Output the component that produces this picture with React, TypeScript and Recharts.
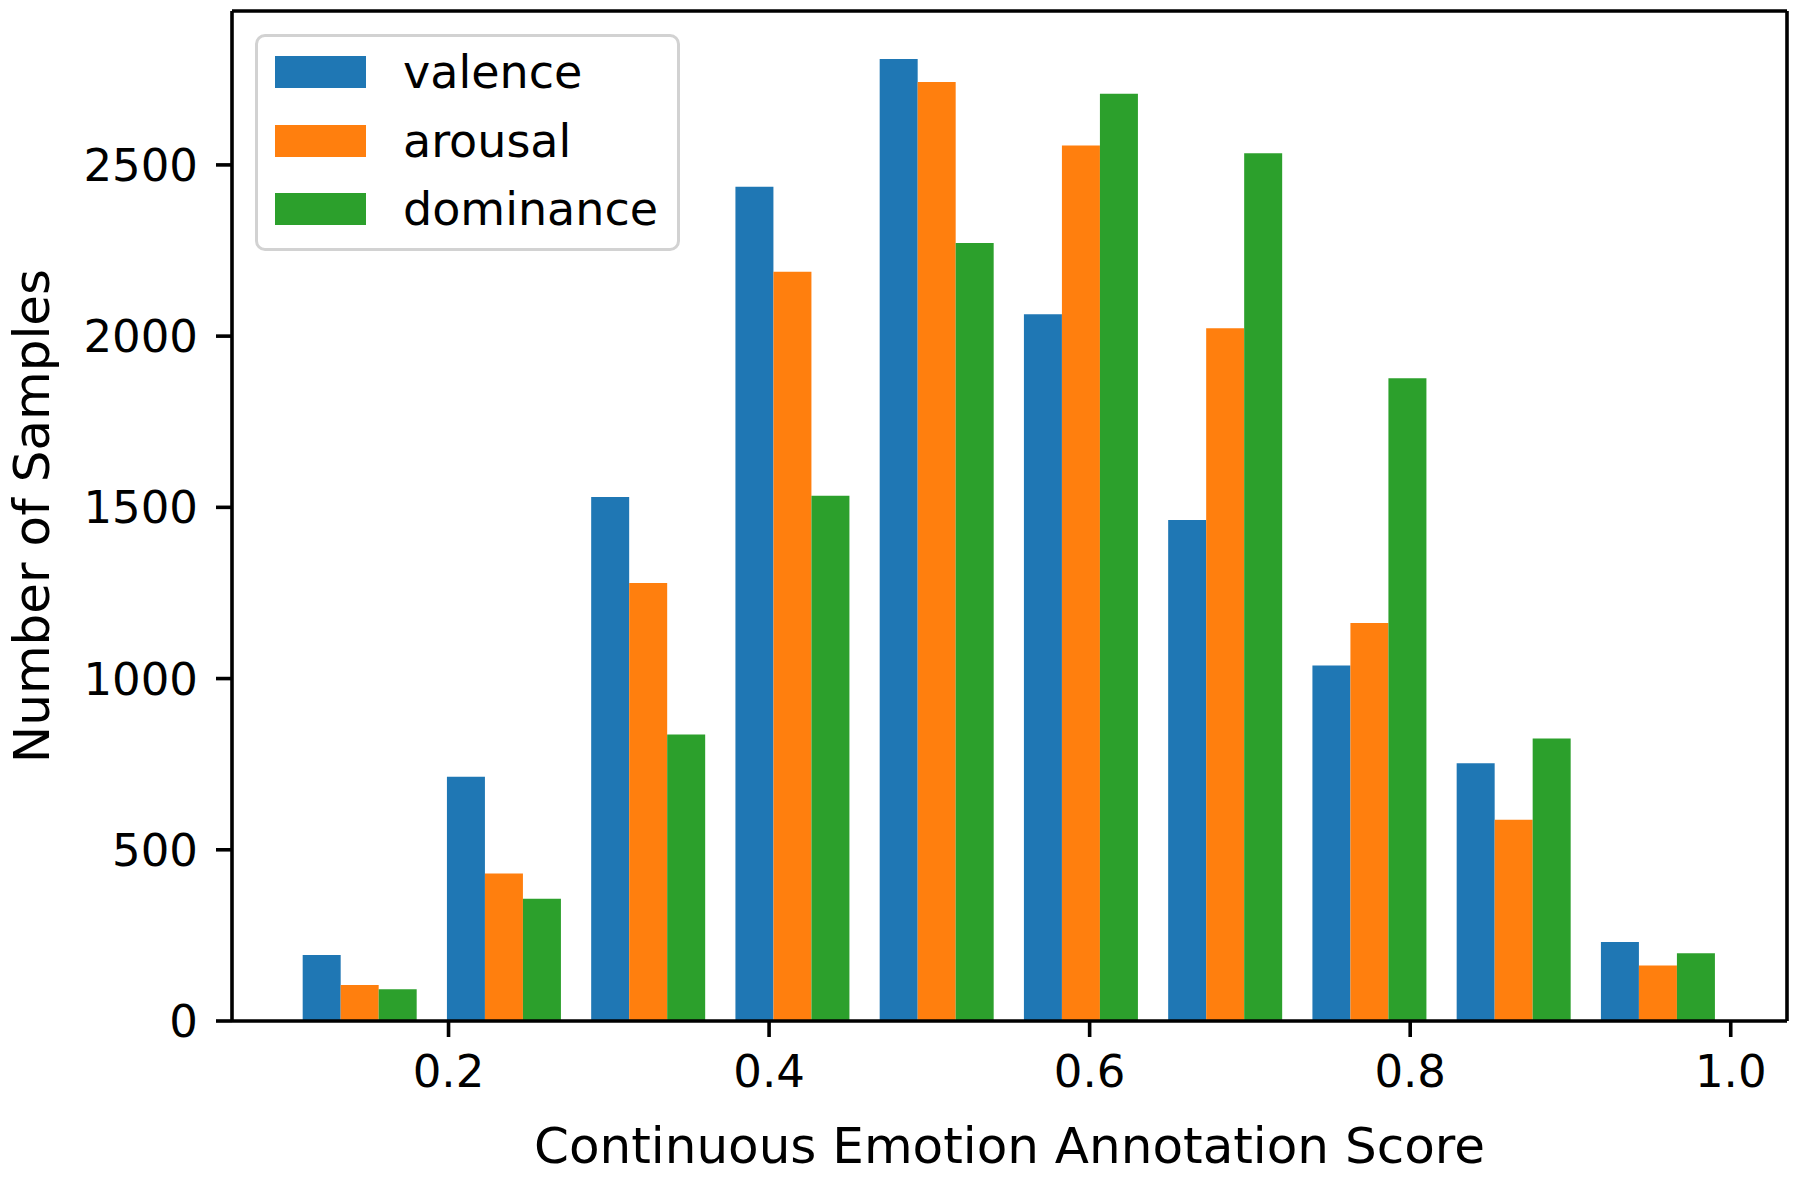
import React from "react"
import { Bar, BarChart, XAxis, YAxis, Legend } from "recharts"

document.body.style.margin = "0"

// histogram bins (edges 0.10 .. 1.00, width 0.09)
const binLabels = [
  "0.10-0.19", "0.19-0.28", "0.28-0.37", "0.37-0.46", "0.46-0.55",
  "0.55-0.64", "0.64-0.73", "0.73-0.82", "0.82-0.91", "0.91-1.00",
]
const binCenters = [0.145, 0.235, 0.325, 0.415, 0.505, 0.595, 0.685, 0.775, 0.865, 0.955]

const valence = [193, 713, 1530, 2436, 2809, 2064, 1463, 1038, 753, 231]
const arousal = [105, 431, 1279, 2188, 2742, 2557, 2023, 1162, 588, 162]
const dominance = [93, 357, 837, 1534, 2272, 2708, 2534, 1877, 825, 198]

const xTicks = [0.2, 0.4, 0.6, 0.8, 1.0]
const yTicks = [0, 500, 1000, 1500, 2000, 2500]

const series = [
  { key: "valence", color: "#1f77b4" },
  { key: "arousal", color: "#ff7f0e" },
  { key: "dominance", color: "#2ca02c" },
]

const data = binLabels.map((bin, i) => ({
  bin,
  center: binCenters[i],
  valence: valence[i],
  arousal: arousal[i],
  dominance: dominance[i],
}))

const W = 1800
const H = 1177
const LEFT = 232
const RIGHT = 13
const TOP = 11
const BOTTOM = 156
const FONT = "'DejaVu Sans', sans-serif"
const FS = 45
const LABEL_FS = 50
const LW = 3.6

// matplotlib-like x limits: 5% margin around the bar extent
const edgeLo = 0.1
const edgeHi = 1.0
const binW = (edgeHi - edgeLo) / binLabels.length
const barLo = edgeLo + 0.1 * binW
const barHi = edgeHi - 0.1 * binW
const xMin = barLo - 0.05 * (barHi - barLo)
const xMax = barHi + 0.05 * (barHi - barLo)
const plotW = W - LEFT - RIGHT
const pxPerUnit = plotW / (xMax - xMin)
const padL = (edgeLo - xMin) * pxPerUnit
const padR = (xMax - edgeHi) * pxPerUnit

const yMax = Math.max(...valence, ...arousal, ...dominance) * 1.05

const tickStyle = { fontFamily: FONT, fontSize: FS, fill: "#000" }
const spine = { stroke: "#000", strokeWidth: LW }

function LegendBox({ payload }: any) {
  const items = series.map((s) => (payload || []).find((p: any) => p.dataKey === s.key)).filter(Boolean)
  return (
    <div
      style={{
        width: 425,
        height: 217,
        boxSizing: "border-box",
        border: "3px solid #d2d2d2",
        borderRadius: 10,
        background: "rgba(255,255,255,0.8)",
        position: "relative",
        fontFamily: FONT,
        fontSize: 46,
        color: "#000",
      }}
    >
      {items.map((p: any, i: number) => (
        <div key={p.value} style={{ position: "absolute", left: 17, top: 19 + i * 68.5, height: 32, width: 400 }}>
          <div style={{ position: "absolute", left: 0, top: 0, width: 91, height: 32, background: p.color }} />
          <div style={{ position: "absolute", left: 128, top: 0, height: 32, lineHeight: "32px", whiteSpace: "nowrap" }}>
            {p.value}
          </div>
        </div>
      ))}
    </div>
  )
}

export default function App() {
  return (
    <div style={{ width: W, height: H, background: "#fff", fontFamily: FONT }}>
      <BarChart
        width={W}
        height={H}
        data={data}
        margin={{ top: TOP - 1, right: 0, bottom: 0, left: 0 }}
        barCategoryGap="10%"
        barGap={0}
      >
        <XAxis
          xAxisId="bins"
          dataKey="bin"
          orientation="top"
          height={1}
          padding={{ left: padL, right: padR }}
          tick={false}
          tickLine={false}
          axisLine={spine}
        />
        <XAxis
          xAxisId="score"
          dataKey="center"
          type="number"
          domain={[xMin, xMax]}
          allowDataOverflow
          ticks={xTicks}
          tickFormatter={(v: number) => v.toFixed(1)}
          height={BOTTOM}
          tickSize={16}
          tickMargin={18}
          tick={tickStyle}
          tickLine={spine}
          axisLine={spine}
          label={{
            content: (props: any) => {
              const vb = props.viewBox || { x: LEFT, y: H - BOTTOM, width: plotW }
              return (
                <text x={vb.x + vb.width / 2} y={vb.y + 142} textAnchor="middle" fontFamily={FONT} fontSize={LABEL_FS} fill="#000">
                  Continuous Emotion Annotation Score
                </text>
              )
            },
          }}
        />
        <YAxis
          yAxisId="left"
          domain={[0, yMax]}
          allowDataOverflow
          ticks={yTicks}
          width={LEFT}
          tickSize={16}
          tickMargin={18}
          tick={tickStyle}
          tickLine={spine}
          axisLine={spine}
          label={{
            content: (props: any) => {
              const vb = props.viewBox || { x: 0, y: TOP, height: H - TOP - BOTTOM }
              const cx = 49
              const cy = vb.y + vb.height / 2
              return (
                <text x={cx} y={cy} transform={`rotate(-90, ${cx}, ${cy})`} textAnchor="middle" fontFamily={FONT} fontSize={LABEL_FS} fill="#000">
                  Number of Samples
                </text>
              )
            },
          }}
        />
        <YAxis
          yAxisId="right"
          orientation="right"
          domain={[0, yMax]}
          allowDataOverflow
          ticks={[]}
          width={RIGHT}
          tick={false}
          tickLine={false}
          axisLine={spine}
        />
        <Legend
          layout="horizontal"
          verticalAlign="middle"
          align="center"
          wrapperStyle={{ left: 255, top: 34, width: 425, height: 217 }}
          content={(props: any) => <LegendBox {...props} />}
        />
        {series.map((s) => (
          <Bar
            key={s.key}
            dataKey={s.key}
            name={s.key}
            xAxisId="bins"
            yAxisId="left"
            fill={s.color}
            isAnimationActive={false}
          />
        ))}
      </BarChart>
    </div>
  )
}
